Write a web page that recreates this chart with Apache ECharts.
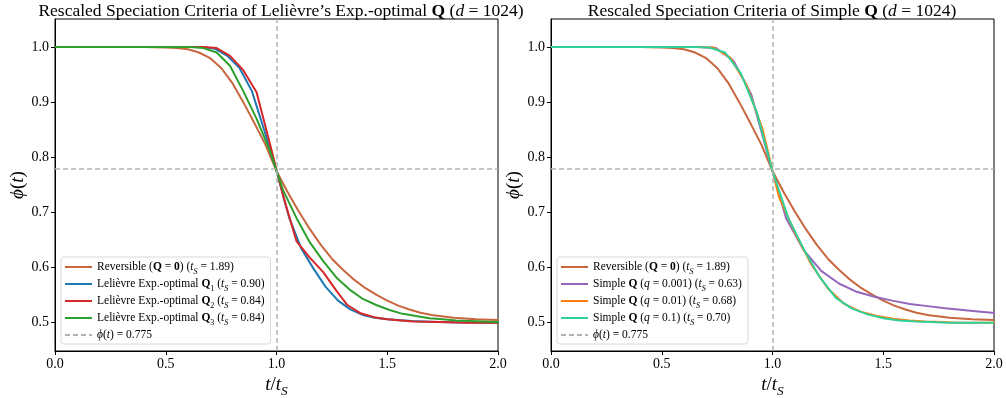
<!DOCTYPE html>
<html>
<head>
<meta charset="utf-8">
<script src="https://cdn.jsdelivr.net/npm/echarts@6/dist/echarts.min.js"></script>
<style>
  html, body { margin: 0; padding: 0; background: #fff; }
  #chart { width: 1006px; height: 398px; }
</style>
</head>
<body>
<div id="chart"></div>
<script>
// axis ticks
const xTicks = [0, 0.5, 1.0, 1.5, 2.0]
const yTicks = [0.5, 0.6, 0.7, 0.8, 0.9, 1.0]
const phiLevel = 0.775
const tRef = 1.0

// reversible Q = 0 (both panels)
const revX = [0, 0.4, 0.5, 0.55, 0.6, 0.65, 0.7, 0.75, 0.8, 0.85, 0.9, 0.95, 1.0, 1.05, 1.1, 1.15, 1.2, 1.25, 1.3, 1.35, 1.4, 1.45, 1.5, 1.55, 1.6, 1.65, 1.7, 1.8, 1.9, 2.0]
const revY = [1.0, 1.0, 0.999, 0.998, 0.996, 0.99, 0.98, 0.962, 0.935, 0.9, 0.862, 0.823, 0.775, 0.737, 0.702, 0.67, 0.641, 0.616, 0.596, 0.578, 0.563, 0.551, 0.54, 0.531, 0.524, 0.518, 0.514, 0.509, 0.506, 0.505]

// Lelievre exp.-optimal Q1, Q2, Q3
const q1X = [0, 0.667, 0.722, 0.778, 0.833, 0.889, 0.944, 1.0, 1.056, 1.111, 1.167, 1.222, 1.278, 1.333, 1.389, 1.444, 1.5, 1.611, 1.722, 1.833, 2.0]
const q1Y = [1.0, 1.0, 0.997, 0.984, 0.962, 0.92, 0.85, 0.775, 0.692, 0.635, 0.598, 0.565, 0.54, 0.524, 0.514, 0.509, 0.506, 0.503, 0.501, 0.5005, 0.5]
const q2X = [0, 0.67, 0.73, 0.79, 0.85, 0.91, 0.97, 1.03, 1.09, 1.15, 1.21, 1.27, 1.32, 1.38, 1.44, 1.5, 1.56, 1.62, 1.74, 1.86, 2.0]
const q2Y = [1.0, 1.0, 0.998, 0.984, 0.958, 0.918, 0.825, 0.73, 0.648, 0.618, 0.592, 0.558, 0.532, 0.517, 0.51, 0.506, 0.504, 0.502, 0.501, 0.5, 0.5]
const q3X = [0, 0.61, 0.67, 0.73, 0.79, 0.85, 0.91, 0.97, 1.03, 1.09, 1.15, 1.21, 1.27, 1.33, 1.39, 1.45, 1.51, 1.57, 1.63, 1.69, 1.75, 1.81, 1.87, 1.93, 1.99, 2.05]
const q3Y = [1.0, 1.0, 0.998, 0.99, 0.966, 0.92, 0.87, 0.812, 0.74, 0.69, 0.646, 0.612, 0.582, 0.56, 0.543, 0.532, 0.523, 0.516, 0.512, 0.508, 0.506, 0.504, 0.503, 0.502, 0.501, 0.5]

// simple Q, q = 0.001 / 0.01 / 0.1
const s1X = [0, 0.667, 0.745, 0.824, 0.903, 0.982, 1.061, 1.14, 1.22, 1.3, 1.38, 1.46, 1.54, 1.62, 1.7, 1.78, 1.86, 1.94, 2.02]
const s1Y = [1.0, 1.0, 0.998, 0.975, 0.915, 0.8, 0.69, 0.632, 0.594, 0.571, 0.556, 0.547, 0.54, 0.534, 0.53, 0.526, 0.523, 0.52, 0.517]
const s2X = [0, 0.662, 0.735, 0.809, 0.882, 0.956, 1.029, 1.103, 1.176, 1.25, 1.324, 1.397, 1.471, 1.544, 1.618, 1.691, 1.765, 1.838, 1.912, 1.985, 2.059]
const s2Y = [1.0, 1.0, 0.999, 0.981, 0.932, 0.85, 0.728, 0.662, 0.605, 0.562, 0.534, 0.52, 0.512, 0.507, 0.504, 0.502, 0.501, 0.5, 0.5, 0.5, 0.5]
const s3X = [0, 0.643, 0.714, 0.786, 0.857, 0.929, 1.0, 1.071, 1.143, 1.214, 1.286, 1.357, 1.429, 1.5, 1.571, 1.643, 1.714, 1.786, 1.857, 1.929, 2.0]
const s3Y = [1.0, 1.0, 0.999, 0.99, 0.952, 0.882, 0.775, 0.69, 0.632, 0.582, 0.545, 0.526, 0.515, 0.508, 0.504, 0.502, 0.501, 0.5, 0.5, 0.5, 0.5]

const FONT = '"Liberation Serif", "DejaVu Serif", serif'
const GRAY = '#b3b3b3'

const zip = (xs, ys) => xs.map((x, i) => [x, ys[i]])

// legend labels (rich text)
const labels = {
  rev: '{n|Reversible (}{b|Q}{n| = }{b|0}{n|) (}{i|t}{si|S}{n| = 1.89)}',
  q1: '{n|Lelièvre Exp.-optimal }{b|Q}{s|1}{n| (}{i|t}{si|S}{n| = 0.90)}',
  q2: '{n|Lelièvre Exp.-optimal }{b|Q}{s|2}{n| (}{i|t}{si|S}{n| = 0.84)}',
  q3: '{n|Lelièvre Exp.-optimal }{b|Q}{s|3}{n| (}{i|t}{si|S}{n| = 0.84)}',
  s1: '{n|Simple }{b|Q}{n| (}{i|q}{n| = 0.001) (}{i|t}{si|S}{n| = 0.63)}',
  s2: '{n|Simple }{b|Q}{n| (}{i|q}{n| = 0.01) (}{i|t}{si|S}{n| = 0.68)}',
  s3: '{n|Simple }{b|Q}{n| (}{i|q}{n| = 0.1) (}{i|t}{si|S}{n| = 0.70)}',
  phi: '{i|ϕ}{n|(}{i|t}{n|) = 0.775}'
}

const rich = (size) => ({
  n: { fontFamily: FONT, fontSize: size, fontWeight: 'normal', color: '#000' },
  b: { fontFamily: FONT, fontSize: size, fontWeight: 'bold', color: '#000' },
  i: { fontFamily: FONT, fontSize: size, fontWeight: 'normal', fontStyle: 'italic', color: '#000' },
  s: { fontFamily: FONT, fontSize: size * 0.7, fontWeight: 'normal', color: '#000', verticalAlign: 'bottom', lineHeight: size * 0.7, padding: [0, 0, -3, 0] },
  si: { fontFamily: FONT, fontSize: size * 0.7, fontWeight: 'normal', fontStyle: 'italic', color: '#000', verticalAlign: 'bottom', lineHeight: size * 0.7, padding: [0, 0, -3, 0] }
})

const panels = [
  { left: 55, right: 508, titleX: 276, legendLeft: 61,
    title: '{n|Rescaled Speciation Criteria of Lelièvre’s Exp.-optimal }{b|Q}{n| (}{i|d}{n| = 1024)}' },
  { left: 551, right: 12, titleX: 767, legendLeft: 557,
    title: '{n|Rescaled Speciation Criteria of Simple }{b|Q}{n| (}{i|d}{n| = 1024)}' }
]

function line(name, idx, xs, ys, color) {
  return {
    name: name, type: 'line', xAxisIndex: idx, yAxisIndex: idx,
    data: zip(xs, ys), symbol: 'none', z: 3,
    lineStyle: { color: color, width: 2 }, itemStyle: { color: color }
  }
}

function refSeries(idx) {
  return {
    name: 'phi', type: 'line', xAxisIndex: idx, yAxisIndex: idx, data: [], z: 1,
    symbol: 'none',
    lineStyle: { color: GRAY, width: 1.5, type: [5, 3] }, itemStyle: { color: GRAY },
    markLine: {
      silent: true, symbol: ['none', 'none'], label: { show: false },
      lineStyle: { color: GRAY, width: 1.5, type: [5, 3] },
      data: [{ xAxis: tRef }, { yAxis: phiLevel }]
    }
  }
}

const chart = echarts.init(document.getElementById('chart'), null, { renderer: 'canvas' })

const option = {
  animation: false,
  backgroundColor: '#fff',
  title: panels.map(p => ({
    text: p.title, left: p.titleX, top: -3, textAlign: 'center',
    textStyle: { fontWeight: 'normal', rich: rich(17.5) }
  })),
  grid: panels.map(p => ({
    left: p.left, right: p.right, top: 19, bottom: 47,
    outerBoundsMode: 'none', containLabel: false,
    show: true, borderColor: '#000', borderWidth: 1
  })),
  xAxis: panels.map((p, i) => ({
    type: 'value', gridIndex: i, min: 0, max: 2, interval: 0.5,
    splitLine: { show: false },
    axisLine: { onZero: false, lineStyle: { color: '#000', width: 1 } },
    axisTick: { length: 4, lineStyle: { color: '#000' } },
    axisLabel: { color: '#000', fontFamily: FONT, fontSize: 14, margin: 6, formatter: v => v.toFixed(1) },
    name: '{i|t}{n|/}{i|t}{si|S}', nameLocation: 'middle', nameGap: 23,
    nameTextStyle: { rich: rich(19) }
  })),
  yAxis: panels.map((p, i) => ({
    type: 'value', gridIndex: i, min: 0.4486, max: 1.0508,
    splitLine: { show: false },
    axisLine: { onZero: false, lineStyle: { color: '#000', width: 1 } },
    axisTick: { length: 4, lineStyle: { color: '#000' }, customValues: yTicks },
    axisLabel: { color: '#000', fontFamily: FONT, fontSize: 14, margin: 6, customValues: yTicks, formatter: v => v.toFixed(1) },
    name: '{i|ϕ}{n|(}{i|t}{n|)}', nameLocation: 'middle', nameGap: 27, nameRotate: 90,
    nameTextStyle: { rich: rich(19) }
  })),
  legend: [
    { data: ['rev', 'q1', 'q2', 'q3', 'phi'] },
    { data: ['rev', 's1', 's2', 's3', 'phi'] }
  ].map((l, i) => ({
    data: l.data, orient: 'vertical', left: panels[i].legendLeft, bottom: 54,
    itemWidth: 27, itemHeight: 10, itemGap: 2,
    padding: [4, 6, 3, 3],
    borderColor: '#d9d9d9', borderWidth: 1, borderRadius: 3,
    backgroundColor: 'rgba(255,255,255,0.85)',
    itemStyle: { opacity: 0 },
    formatter: name => labels[name],
    textStyle: { rich: rich(11.5) }
  })),
  series: [
    refSeries(0),
    line('rev', 0, revX, revY, '#c8673f'),
    line('q1', 0, q1X, q1Y, '#1f77b4'),
    line('q2', 0, q2X, q2Y, '#d62728'),
    line('q3', 0, q3X, q3Y, '#2ca02c'),
    refSeries(1),
    line('rev', 1, revX, revY, '#c8673f'),
    line('s1', 1, s1X, s1Y, '#9467bd'),
    line('s2', 1, s2X, s2Y, '#ff7f0e'),
    line('s3', 1, s3X, s3Y, '#2fd09a')
  ]
}

chart.setOption(option)
</script>
</body>
</html>
